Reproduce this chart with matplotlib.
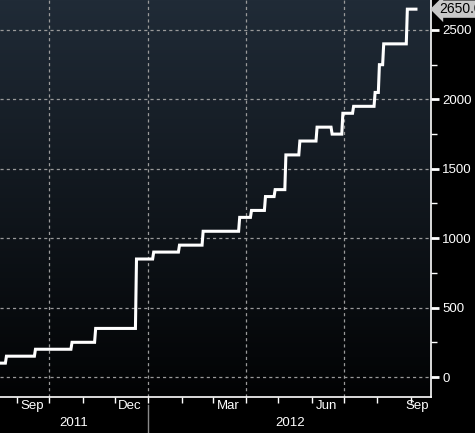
import matplotlib
matplotlib.use("Agg")
import matplotlib.pyplot as plt
import matplotlib.dates as mdates
from matplotlib.lines import Line2D
import numpy as np
import datetime as dt

# Level changes (date of change, new level)
change_dates = ["2011-08-16", "2011-08-22", "2011-09-18", "2011-10-22", "2011-11-13",
                "2011-12-21", "2012-01-06", "2012-01-30", "2012-02-21", "2012-03-26",
                "2012-04-06", "2012-04-19", "2012-04-28", "2012-05-08", "2012-05-21",
                "2012-06-06", "2012-06-20", "2012-06-30", "2012-07-10", "2012-07-30",
                "2012-08-03", "2012-08-07", "2012-08-29"]
levels = [100, 150, 200, 250, 350, 850, 900, 950, 1050, 1150, 1200, 1300, 1350,
          1600, 1700, 1800, 1750, 1900, 1950, 2050, 2250, 2400, 2650]
end_date = "2012-09-06"
last_label = "2650.0"
month_labels = ["Sep", "Dec", "Mar", "Jun", "Sep"]
month_label_dates = ["2011-09-15", "2011-12-15", "2012-03-15", "2012-06-15", "2012-09-07"]
year_labels = ["2011", "2012"]

def d(s):
    return dt.datetime.strptime(s, "%Y-%m-%d")

# build step line points
xs, ys = [], []
cd = [d(s) for s in change_dates]
for i, (t, v) in enumerate(zip(cd, levels)):
    xs.append(t); ys.append(v)
    nxt = cd[i + 1] if i + 1 < len(cd) else d(end_date)
    if i + 1 < len(cd):
        xs.append(nxt - dt.timedelta(days=1)); ys.append(v)
    else:
        xs.append(nxt); ys.append(v)

W, H = 475, 433
fig = plt.figure(figsize=(W / 100, H / 100), dpi=100, facecolor="black")
ax = fig.add_axes([0, (H - 397) / H, 431 / W, 397 / H])
ax.set_facecolor("black")

xmin, xmax = d("2011-08-16"), d("2012-09-20")
ymin, ymax = -144, 2716
ax.set_xlim(xmin, xmax)
ax.set_ylim(ymin, ymax)

# gradient background
grad = np.linspace(0, 1, 256).reshape(-1, 1)
top = np.array([0x20, 0x2b, 0x37]) / 255
bot = np.array([0x02, 0x03, 0x04]) / 255
img = top[None, None, :] * (1 - grad[:, :, None]) + bot[None, None, :] * grad[:, :, None]
ax.imshow(img, extent=[0, 1, 0, 1], transform=ax.transAxes, aspect="auto", zorder=0)

# grid
for v in range(0, 2501, 500):
    ax.axhline(v, color="#9a9a9a", lw=0.9, ls=(0, (2.5, 2.5)), zorder=1)
for s in ["2011-10-01", "2012-01-01", "2012-04-01", "2012-07-01"]:
    ax.axvline(d(s), color="#9a9a9a", lw=0.9, ls=(0, (2.5, 2.5)), zorder=1)

ax.plot(xs, ys, color="white", lw=2.2, solid_joinstyle="miter", zorder=3)

# spines
for s in ["left", "top"]:
    ax.spines[s].set_visible(False)
for s in ["right", "bottom"]:
    ax.spines[s].set_color("white")
    ax.spines[s].set_linewidth(1.2)

# y axis
ax.yaxis.tick_right()
ax.set_yticks(range(0, 2501, 500))
ax.set_yticks(range(250, 2501, 500), minor=True)
ax.tick_params(axis="y", which="major", direction="out", length=6, width=2,
               colors="white", labelsize=9.5, pad=2)
ax.tick_params(axis="y", which="minor", direction="out", length=4, width=1, colors="white")
for lab in ax.get_yticklabels():
    lab.set_fontfamily("Liberation Sans")

# x axis
month_starts = []
y0, m0 = 2011, 9
while True:
    t = dt.datetime(y0, m0, 1)
    if t > xmax:
        break
    month_starts.append(t)
    m0 += 1
    if m0 > 12:
        m0 = 1; y0 += 1
ax.set_xticks(month_starts)
ax.set_xticklabels([])
ax.set_xticks([d(s) for s in month_label_dates], minor=True)
ax.set_xticklabels(month_labels, minor=True, fontfamily="Liberation Sans", fontsize=9.5, color="white")
ax.tick_params(axis="x", which="major", direction="out", length=4, width=1, colors="white")
ax.tick_params(axis="x", which="minor", length=0, pad=2, labelcolor="white")

# year labels & separator
trans = matplotlib.transforms.blended_transform_factory(ax.transData, ax.transAxes)
jan1 = d("2012-01-01")
ax.add_line(Line2D([jan1, jan1], [-0.02, -0.1], transform=trans, color="#8a8a8a",
                   lw=1, clip_on=False))
c1 = mdates.date2num(xmin) / 2 + mdates.date2num(jan1) / 2
c2 = mdates.date2num(jan1) / 2 + mdates.date2num(xmax) / 2
for c, lab in zip([c1, c2], year_labels):
    ax.text(c, -0.066, lab, transform=trans, ha="center", va="center", color="white",
            fontsize=9.5, fontfamily="Liberation Sans", clip_on=False)

# last value label
ax.annotate(last_label, xy=(1.0, levels[-1]), xycoords=("axes fraction", "data"),
            xytext=(6, 0), textcoords="offset points", ha="left", va="center",
            fontsize=10, fontfamily="Liberation Sans", color="black",
            bbox=dict(boxstyle="larrow,pad=0.12", fc="#c8c8c8", ec="none"),
            annotation_clip=False)

fig.savefig("out.png", dpi=100, facecolor="black")
